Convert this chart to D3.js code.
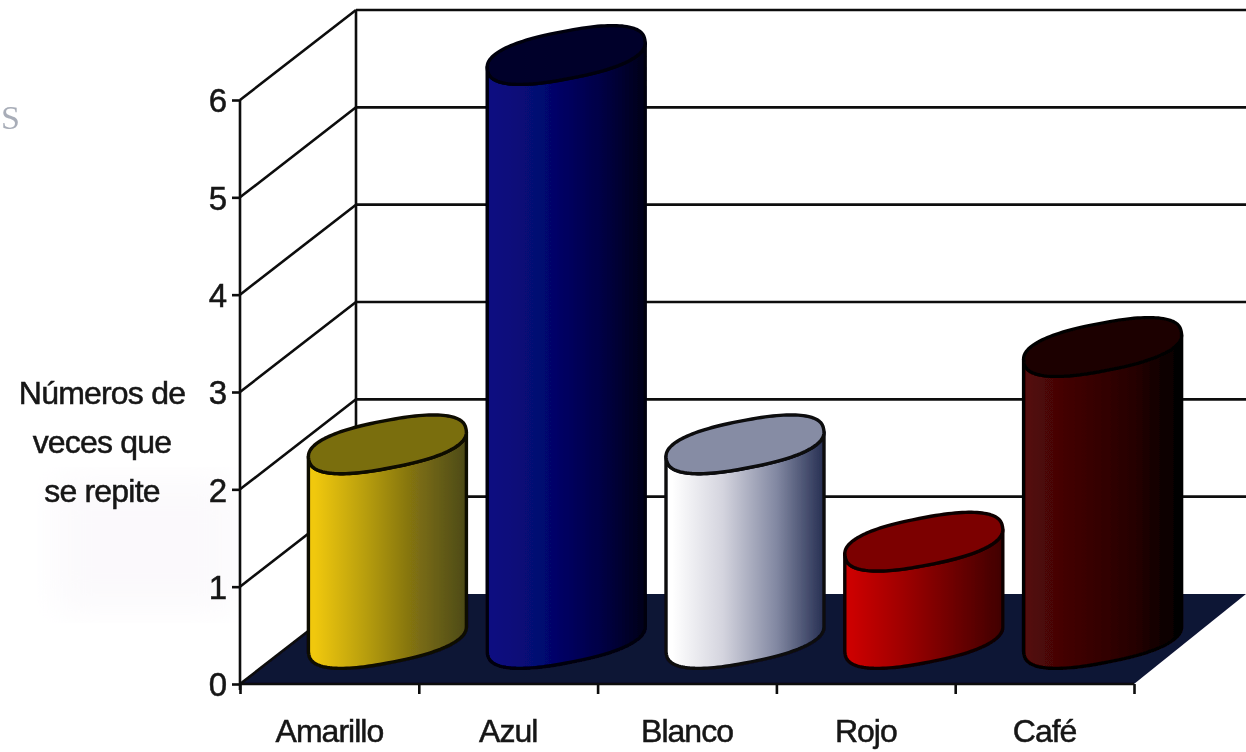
<!DOCTYPE html>
<html><head><meta charset="utf-8">
<script src="https://cdn.jsdelivr.net/npm/d3@7"></script>
<style>
html,body{margin:0;padding:0;background:#fff}
svg{display:block}
text{font-family:"Liberation Sans",Arial,sans-serif;fill:#141414}
</style></head><body>
<svg id="c" width="1246" height="752"></svg>
<script>
const categories = ["Amarillo","Azul","Blanco","Rojo","Café"];
const values = [2,6,2,1,3];
const yTicks = [0,1,2,3,4,5,6];
const titleLines = ["Números de","veces que","se repite"];
const palette = [
 {top:"#7a6e10",edge:"#100804",stops:["#f0c808","#b89e0c","#7a6c12","#4c4a14"]},
 {top:"#00002c",edge:"#00000e",stops:["#0a0e80","#050770","#000048","#000018"]},
 {top:"#868ca4",edge:"#0a0a10",stops:["#ffffff","#d4d4de","#8288a2","#262f52"]},
 {top:"#7c0000",edge:"#100000",stops:["#cc0606","#a00202","#6c0000","#400000"]},
 {top:"#1e0202",edge:"#060000",stops:["#520808","#3c0404","#260202","#000000"]}
];
const W=1246,H=752;
const svg=d3.select("#c");
const defs=svg.append("defs");
const x=d3.scaleBand().domain(categories).range([240,1134]);
const y=d3.scaleLinear().domain([0,6]).range([684,100]);
const depth={x:116,y:-90};
const F=d3.format("d");

defs.append("filter").attr("id","soft").append("feGaussianBlur").attr("stdDeviation",18);
defs.append("filter").attr("id","scan").attr("x",0).attr("y",0).attr("width",1).attr("height",1)
  .append("feGaussianBlur").attr("stdDeviation",0.6);
const root=svg.append("g").attr("filter","url(#scan)");
root.append("rect").attr("width",W).attr("height",H).attr("fill","#fff");
root.append("rect").attr("x",55).attr("y",480).attr("width",180).attr("height",130)
  .attr("fill","#fbf9fc").attr("filter","url(#soft)");
root.append("text").attr("x",1).attr("y",129).attr("font-size",34)
  .style("font-family","'Liberation Serif',serif").style("fill","#a8adb8").text("S");

const line=d3.line();
const [xa,xb]=x.range();
root.append("path").attr("fill","#fff").attr("d",line([[xa,y(6)],[xa+depth.x,y(6)+depth.y],[W,y(6)+depth.y],[W,y(0)+depth.y],[xa+depth.x,y(0)+depth.y],[xa,y(0)]])+"Z");
root.append("path").attr("fill","#0f1334").attr("d",line([[xa,y(0)],[xa+depth.x,y(0)+depth.y],[W,y(0)+depth.y],[xb,y(0)]])+"Z");
const grid=root.append("g").attr("stroke","#0c0c0c").attr("stroke-width",2.6).attr("fill","none");
yTicks.forEach(v=>{
  if(v>0) grid.append("path").attr("d",line([[xa+depth.x,y(v)+depth.y],[W,y(v)+depth.y]]));
  grid.append("path").attr("d",line([[xa,y(v)],[xa+depth.x,y(v)+depth.y]]));
});
grid.append("path").attr("d",line([[xa+depth.x,y(6)+depth.y],[xa+depth.x,y(0)+depth.y]]));

// cylinders: rounded rotated ellipses
const phi=-11*Math.PI/180, semiA=78, semiB=23, pw=0.82, targetHalf=79;
const sp=v=>Math.sign(v)*Math.pow(Math.abs(v),pw);
const raw=t=>{const a=semiA*sp(Math.cos(t)),b=semiB*sp(Math.sin(t));
  return [a*Math.cos(phi)-b*Math.sin(phi), a*Math.sin(phi)+b*Math.cos(phi)];};
const samples=d3.range(0,Math.PI*2,0.005);
const t0=samples[d3.greatestIndex(samples,t=>raw(t)[0])];
const tL=samples[d3.leastIndex(samples,t=>raw(t)[0])];
const k=targetHalf/raw(t0)[0];
const pt=(cx,cy,t)=>{const p=raw(t);return [cx+k*p[0],cy+k*p[1]];};
const arc=(cx,cy,a,b,n=64)=>d3.range(n+1).map(i=>pt(cx,cy,a+(b-a)*i/n));
const tLeft=tL>t0?tL:tL+2*Math.PI;
categories.forEach((c,i)=>{
  const cx=x(c)+x.bandwidth()/2+depth.x/2;
  const yb=y(0)+depth.y/2, yt=y(values[i])+depth.y/2;
  const p=palette[i];
  const g=defs.append("linearGradient").attr("id","g"+i).attr("gradientUnits","userSpaceOnUse")
    .attr("x1",cx-targetHalf).attr("x2",cx+targetHalf).attr("y1",0).attr("y2",0);
  p.stops.forEach((s,j)=>g.append("stop").attr("offset",[0.04,0.36,0.7,1][j]).attr("stop-color",s));
  const lowerTop=arc(cx,yt,t0,tLeft);
  const lowerBot=arc(cx,yb,tLeft,t0);
  const bar=root.append("g").attr("stroke",p.edge).attr("stroke-width",3.4).attr("stroke-linejoin","round");
  bar.append("path").attr("d",line(lowerTop.concat(lowerBot))+"Z").attr("fill",`url(#g${i})`);
  bar.append("path").attr("d",line(arc(cx,yt,0,2*Math.PI,128))+"Z").attr("fill",p.top);
});

// axes
const yAxis=d3.axisLeft(y).tickValues(yTicks).tickFormat(F).tickSize(8).tickPadding(5);
const ya=root.append("g").attr("transform",`translate(${xa},0)`).call(yAxis);
const xt=d3.scaleLinear().domain([0,categories.length]).range([xa,xb]);
const xAxis=d3.axisBottom(xt).tickValues(d3.range(categories.length+1)).tickFormat("").tickSize(10);
const xg=root.append("g").attr("transform",`translate(0,${y(0)})`).call(xAxis);
[ya,xg].forEach(g=>{g.selectAll("path,line").attr("stroke","#0c0c0c").attr("stroke-width",2.6);});
ya.select(".domain").attr("d",line([[0,y(6)],[0,y(0)+6]]));
xg.select(".domain").attr("d",line([[xa,0],[xb,0]]));
ya.selectAll("text").attr("font-size",33).attr("font-family",null).attr("dy","0.36em")
  .attr("stroke","#141414").attr("stroke-width",0.5);
root.append("g").selectAll("text").data(categories).join("text")
  .attr("x",c=>x(c)+x.bandwidth()/2).attr("y",742).attr("text-anchor","middle")
  .attr("font-size",32).attr("letter-spacing",-1).attr("stroke","#141414").attr("stroke-width",0.5).text(c=>c);
root.append("g").selectAll("text").data(titleLines).join("text")
  .attr("x",102).attr("y",(d,i)=>404+i*49).attr("text-anchor","middle")
  .attr("font-size",32).attr("letter-spacing",-0.8).attr("stroke","#141414").attr("stroke-width",0.5).text(d=>d);
</script></body></html>
